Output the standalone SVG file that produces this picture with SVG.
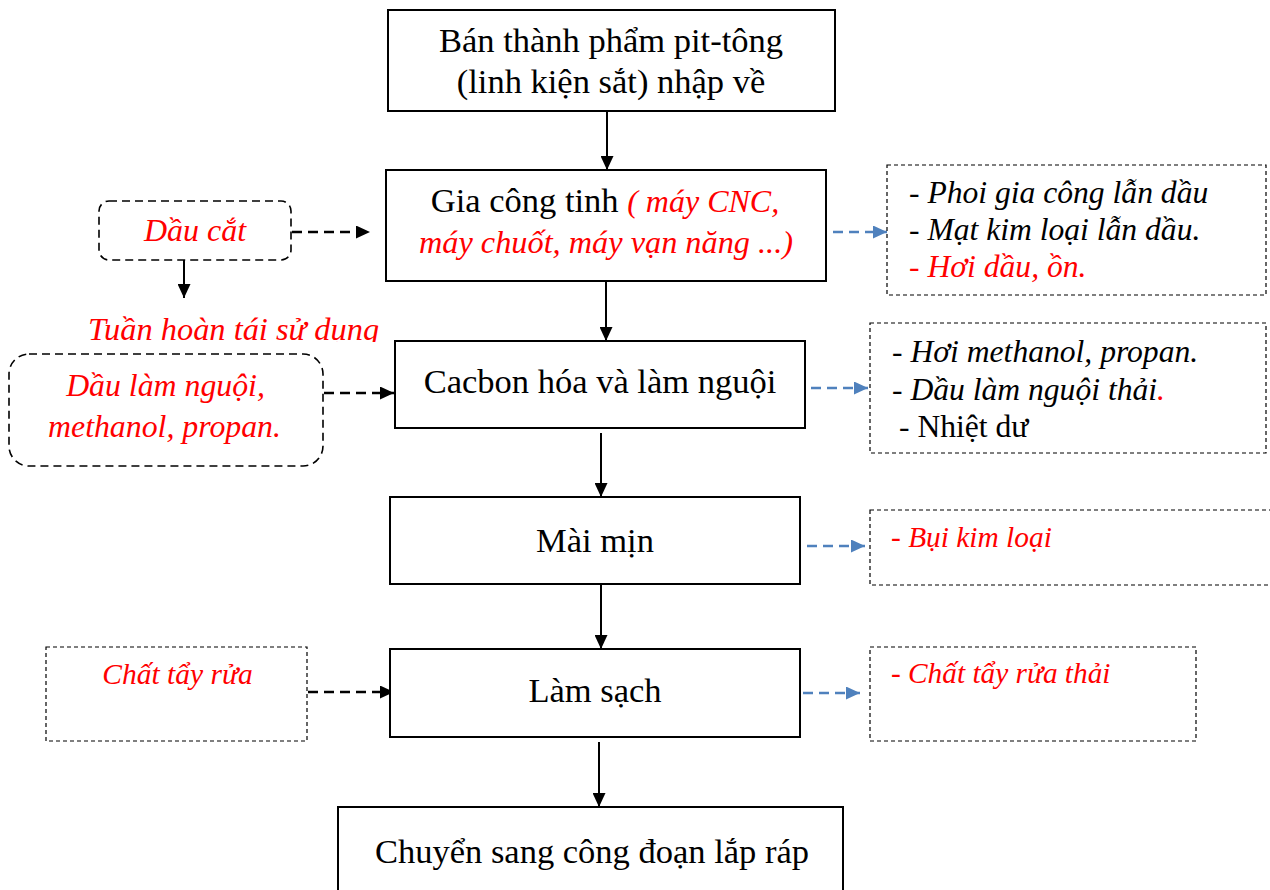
<svg xmlns="http://www.w3.org/2000/svg" width="1270" height="890" viewBox="0 0 1270 890">
  <style>
    .step { fill: #fff; stroke: #000; stroke-width: 2; }
    .inbox { fill: #fff; stroke: #000; stroke-width: 1.6; stroke-dasharray: 8 5; }
    .outbox { fill: #fff; stroke: #000; stroke-width: 1.2; stroke-dasharray: 4 3; }
    .t { font-family: "Liberation Serif", "Times New Roman", serif; fill: #000; }
    .main { font-size: 34.5px; }
    .red { fill: #ff0000; }
    .it { font-style: italic; }
    .flow { stroke: #000; stroke-width: 2; fill: none; marker-end: url(#ah); }
    .feed { stroke: #000; stroke-width: 2.5; fill: none; stroke-dasharray: 10 6; marker-end: url(#ah); }
    .emit { stroke: #4f81bd; stroke-width: 2.5; fill: none; stroke-dasharray: 10 6; marker-end: url(#ahb); }
  </style>
  <defs>
    <marker id="ah" markerWidth="14" markerHeight="13" refX="14" refY="6.5" orient="auto" markerUnits="userSpaceOnUse">
      <path d="M0,0 L14,6.5 L0,13 Z" fill="#000"/>
    </marker>
    <marker id="ahb" markerWidth="14" markerHeight="13" refX="14" refY="6.5" orient="auto" markerUnits="userSpaceOnUse">
      <path d="M0,0 L14,6.5 L0,13 Z" fill="#4f81bd"/>
    </marker>
    <clipPath id="clipLoop">
      <rect x="60" y="300" width="340" height="42"/>
    </clipPath>
  </defs>

  <!-- connectors -->
  <g id="connectors">
    <line class="flow" x1="607" y1="111" x2="607" y2="170"/>
    <line class="flow" x1="606" y1="281" x2="606" y2="341"/>
    <line class="flow" x1="601" y1="433" x2="601" y2="497"/>
    <line class="flow" x1="601" y1="584" x2="601" y2="649"/>
    <line class="flow" x1="599" y1="742" x2="599" y2="807"/>
    <line class="flow" x1="184" y1="260" x2="184" y2="298"/>

    <line class="feed" x1="292" y1="232" x2="370" y2="232"/>
    <line class="feed" x1="324" y1="393" x2="394" y2="393"/>
    <line class="feed" x1="308" y1="692" x2="394" y2="692"/>

    <line class="emit" x1="833" y1="232" x2="887" y2="232"/>
    <line class="emit" x1="811" y1="388" x2="868" y2="388"/>
    <line class="emit" x1="807" y1="546" x2="865" y2="546"/>
    <line class="emit" x1="803" y1="693" x2="860" y2="693"/>
  </g>

  <!-- process steps -->
  <g id="step-input">
    <rect class="step" x="388" y="10" width="447" height="101"/>
    <text class="t main" x="611" y="52" text-anchor="middle">Bán thành phẩm pit-tông</text>
    <text class="t main" x="611" y="93" text-anchor="middle">(linh kiện sắt) nhập về</text>
  </g>
  <g id="step-machining">
    <rect class="step" x="386" y="170" width="440" height="111"/>
    <text class="t main" x="605" y="212" text-anchor="middle"><tspan>Gia công tinh </tspan><tspan class="red it" font-size="32">( máy CNC,</tspan></text>
    <text class="t red it" x="606" y="253" text-anchor="middle" font-size="32.3">máy chuốt, máy vạn năng ...)</text>
  </g>
  <g id="step-carbon">
    <rect class="step" x="395" y="341" width="410" height="87"/>
    <text class="t main" x="600" y="393" text-anchor="middle">Cacbon hóa và làm nguội</text>
  </g>
  <g id="step-grind">
    <rect class="step" x="390" y="497" width="410" height="87"/>
    <text class="t main" x="595" y="552" text-anchor="middle">Mài mịn</text>
  </g>
  <g id="step-clean">
    <rect class="step" x="390" y="649" width="410" height="88"/>
    <text class="t main" x="595" y="702" text-anchor="middle">Làm sạch</text>
  </g>
  <g id="step-assembly">
    <rect class="step" x="338" y="807" width="505" height="90"/>
    <text class="t main" x="592" y="863" text-anchor="middle">Chuyển sang công đoạn lắp ráp</text>
  </g>

  <!-- inputs -->
  <g id="in-cutting-oil">
    <rect class="inbox" x="99" y="201" width="192" height="59" rx="10"/>
    <text class="t red it" x="195" y="241" text-anchor="middle" font-size="32">Dầu cắt</text>
  </g>
  <g id="recycle-label" clip-path="url(#clipLoop)">
    <text class="t red it" x="233.5" y="340" text-anchor="middle" font-size="32.4">Tuần hoàn tái sử dụng</text>
  </g>
  <g id="in-coolant">
    <rect class="inbox" x="9" y="354" width="314" height="112" rx="20"/>
    <text class="t red it" x="165.5" y="396" text-anchor="middle" font-size="31.8">Dầu làm nguội,</text>
    <text class="t red it" x="164.5" y="437" text-anchor="middle" font-size="31.8">methanol, propan.</text>
  </g>
  <g id="in-detergent">
    <rect class="outbox" x="46" y="647" width="261" height="94"/>
    <text class="t red it" x="177.5" y="684" text-anchor="middle" font-size="29.5">Chất tẩy rửa</text>
  </g>

  <!-- outputs -->
  <g id="out-machining">
    <rect class="outbox" x="887" y="165" width="379" height="130"/>
    <text class="t it" x="909" y="203" font-size="31.6">- Phoi gia công lẫn dầu</text>
    <text class="t it" x="909" y="240" font-size="31.6">- Mạt kim loại lẫn dầu.</text>
    <text class="t it red" x="909" y="277" font-size="31.6">- Hơi dầu, ồn.</text>
  </g>
  <g id="out-carbon">
    <rect class="outbox" x="870" y="323" width="396" height="130"/>
    <text class="t it" x="892" y="362" font-size="31.6">- Hơi methanol, propan.</text>
    <text class="t it" x="892" y="400" font-size="31.6">- Dầu làm nguội thải<tspan class="red">.</tspan></text>
    <text class="t" x="899" y="437" font-size="31.6">- Nhiệt dư</text>
  </g>
  <g id="out-grind">
    <rect class="outbox" x="870" y="510" width="410" height="75"/>
    <text class="t it red" x="891" y="547" font-size="29.4">- Bụi kim loại</text>
  </g>
  <g id="out-clean">
    <rect class="outbox" x="870" y="647" width="326" height="94"/>
    <text class="t it red" x="891" y="683" font-size="29.3">- Chất tẩy rửa thải</text>
  </g>
</svg>
